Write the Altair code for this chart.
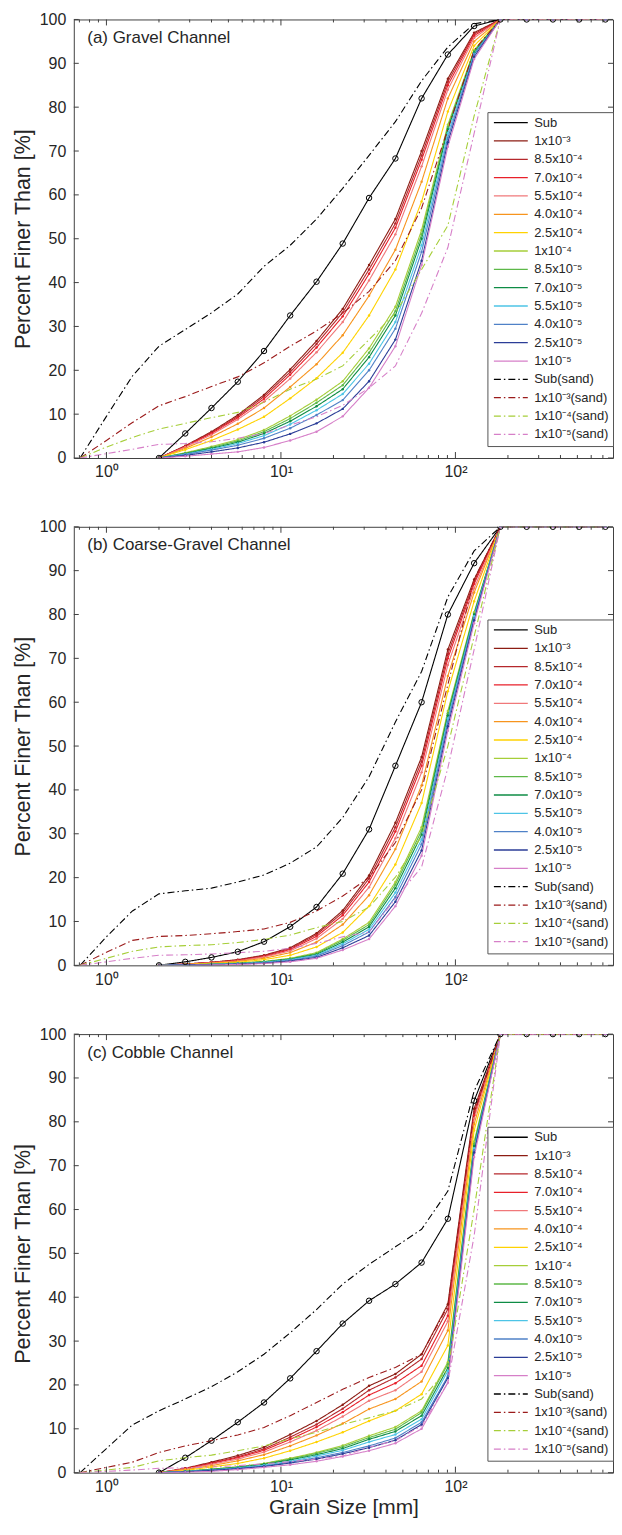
import altair as alt
import pandas as pd

FONT = "Liberation Sans"
TXT = "#262626"

# ---- grain sizes (mm) ----
SIZES = [2, 2.83, 4, 5.66, 8, 11.3, 16, 22.6, 32, 45.3, 64, 90.5, 128, 181]
SAND_SIZES = [0.707, 1, 1.41, 2, 2.83, 4, 5.66, 8, 11.3, 16, 22.6, 32, 45.3, 64, 90.5, 128, 181]
TAIL_SIZES = [256, 362, 512, 724]
TAIL_VALUES = [100, 100, 100, 100]

NAMES = ["Sub", "1x10⁻³", "8.5x10⁻⁴", "7.0x10⁻⁴", "5.5x10⁻⁴", "4.0x10⁻⁴", "2.5x10⁻⁴",
         "1x10⁻⁴", "8.5x10⁻⁵", "7.0x10⁻⁵", "5.5x10⁻⁵", "4.0x10⁻⁵", "2.5x10⁻⁵", "1x10⁻⁵",
         "Sub(sand)", "1x10⁻³(sand)", "1x10⁻⁴(sand)", "1x10⁻⁵(sand)"]
COLORS = ["#000000", "#8C1C13", "#B5282C", "#E8202A", "#F0787A", "#F7941D", "#FFD200",
          "#A6CE39", "#5DB848", "#0E8C45", "#4DC4E6", "#4F81C7", "#2B3D97", "#D67FC8",
          "#000000", "#9B1B1B", "#A6CE39", "#D67FC8"]
SAND_FLAGS = [False] * 14 + [True] * 4

PANEL_TITLES = ["(a) Gravel Channel", "(b) Coarse-Gravel Channel", "(c) Cobble Channel"]

# ---- panel (a) ----
A = [
    [0, 5.6, 11.4, 17.4, 24.4, 32.5, 40.2, 48.9, 59.3, 68.3, 82, 92, 98.5, 100],
    [0, 2.8, 6.0, 9.8, 14.4, 20.2, 26.7, 34, 44, 54.5, 70, 86.5, 97, 100],
    [0, 2.7, 5.8, 9.5, 14.0, 19.6, 26.0, 33.2, 43, 53.5, 69, 85.8, 96.7, 100],
    [0, 2.6, 5.6, 9.2, 13.5, 19.0, 25.2, 32.3, 42, 52.5, 68, 85, 96.3, 100],
    [0, 2.5, 5.3, 8.8, 12.9, 18.1, 24.1, 31, 40.5, 51, 66.5, 84, 95.8, 100],
    [0, 2.2, 4.8, 7.8, 11.4, 16.2, 21.4, 28, 37, 47.5, 63, 82, 95, 100],
    [0, 1.9, 4.0, 6.5, 9.4, 13.6, 18.2, 24, 32.5, 43, 58.5, 79, 94, 100],
    [0, 1.2, 2.6, 4.2, 6.4, 9.6, 13.3, 17.5, 25, 34.5, 52, 76, 93, 100],
    [0, 1.1, 2.4, 3.9, 6.0, 9.0, 12.6, 16.6, 24, 33.5, 51, 75.5, 92.8, 100],
    [0, 1.0, 2.2, 3.6, 5.6, 8.4, 11.8, 15.7, 23, 32.5, 50, 75, 92.5, 100],
    [0, 0.9, 2.0, 3.3, 5.1, 7.7, 10.9, 14.6, 21.5, 31, 48.5, 74, 92.2, 100],
    [0, 0.8, 1.8, 2.9, 4.5, 6.8, 9.8, 13.2, 20, 29.5, 47, 73, 92, 100],
    [0, 0.6, 1.4, 2.3, 3.6, 5.5, 7.9, 11.2, 17.5, 27, 45, 72, 91.5, 100],
    [0, 0.4, 0.9, 1.4, 2.4, 4.0, 6.0, 9.5, 16, 25.5, 44, 71, 91, 100],
]
A_SAND = [
    [0, 9.5, 18.7, 25.5, 29.3, 33.1, 37.4, 43.7, 48.5, 54.5, 61.5, 69, 76.7, 86, 93.7, 99, 100],
    [0, 4, 8.1, 11.9, 14, 16.3, 18.5, 21.7, 25.5, 29, 33, 38, 45, 57, 75, 93, 100],
    [0, 2.5, 4.7, 6.6, 7.9, 9.2, 10.4, 12.7, 15.7, 18, 21, 27, 33, 43, 53, 78, 100],
    [0, 1, 2, 3.1, 3.3, 3.7, 4.5, 5.6, 7.5, 9.4, 12, 16, 21, 33, 48, 74, 100],
]

# ---- panel (b) ----
B = [
    [0, 0.8, 1.8, 3.1, 5.4, 8.8, 13.3, 20.9, 31, 45.5, 60, 80, 91.7, 100],
    [0, 0.3, 0.7, 1.3, 2.3, 4.0, 7.3, 12.5, 20.5, 32.5, 47.5, 72, 88, 100],
    [0, 0.3, 0.7, 1.2, 2.2, 3.8, 7.0, 12.0, 19.8, 31.5, 46.5, 71, 87.5, 100],
    [0, 0.3, 0.6, 1.1, 2.0, 3.6, 6.6, 11.4, 19.0, 30.5, 45.5, 70, 87, 100],
    [0, 0.2, 0.6, 1.0, 1.9, 3.3, 6.1, 10.6, 17.8, 29, 44, 68.5, 86, 100],
    [0, 0.2, 0.5, 0.9, 1.6, 2.9, 5.3, 9.3, 16, 26.5, 41, 66, 85, 100],
    [0, 0.2, 0.4, 0.7, 1.3, 2.3, 4.2, 7.5, 13.5, 23, 37, 62.5, 83, 100],
    [0, 0.1, 0.3, 0.5, 0.9, 1.6, 2.9, 6.0, 9.8, 19, 31.5, 58, 80.5, 100],
    [0, 0.1, 0.3, 0.5, 0.8, 1.5, 2.7, 5.7, 9.3, 18.4, 30.7, 57.5, 80.2, 100],
    [0, 0.1, 0.2, 0.4, 0.8, 1.4, 2.5, 5.3, 8.8, 17.6, 29.8, 57, 80, 100],
    [0, 0.1, 0.2, 0.4, 0.7, 1.3, 2.3, 4.9, 8.2, 16.6, 28.7, 56.3, 79.6, 100],
    [0, 0.1, 0.2, 0.3, 0.6, 1.1, 2.1, 4.5, 7.6, 15.6, 27.6, 55.5, 79.2, 100],
    [0, 0.1, 0.1, 0.3, 0.5, 1.0, 1.8, 4.0, 6.8, 14.5, 26.2, 54.5, 78.7, 100],
    [0, 0.0, 0.1, 0.2, 0.4, 0.8, 1.6, 3.5, 6.0, 13.5, 25, 53.5, 78, 100],
]
B_SAND = [
    [0, 6.5, 12.4, 16.3, 17, 17.6, 19, 20.6, 23.3, 27, 33.7, 43, 55.5, 67, 84, 94.5, 100],
    [0, 3, 5.7, 6.6, 6.8, 7.2, 7.7, 8.3, 9.8, 12.4, 15.8, 20, 28, 40, 64, 88, 100],
    [0, 1.6, 3.2, 4.2, 4.5, 4.7, 5.2, 5.9, 6.9, 8.6, 10, 13.3, 20.1, 29.5, 50, 75, 100],
    [0, 0.8, 1.6, 2.3, 2.4, 2.6, 2.9, 3.2, 3.9, 5, 6.5, 7.6, 15.2, 22.4, 45, 72, 100],
]

# ---- panel (c) ----
C = [
    [0, 3.4, 7.3, 11.5, 16, 21.5, 27.7, 34, 39.2, 43, 47.9, 57.9, 84.8, 100],
    [0, 1.0, 2.4, 3.9, 5.8, 8.7, 11.8, 15.5, 19.8, 22.5, 27, 38.4, 83, 100],
    [0, 0.9, 2.2, 3.6, 5.4, 8.1, 11.0, 14.6, 18.8, 21.7, 25.9, 37.3, 82.2, 100],
    [0, 0.9, 2.1, 3.4, 5.1, 7.6, 10.4, 13.8, 17.7, 20.4, 24.4, 35.8, 81.5, 100],
    [0, 0.8, 1.9, 3.1, 4.7, 7.0, 9.6, 12.8, 16.4, 18.8, 23, 34.5, 80.8, 100],
    [0, 0.7, 1.6, 2.7, 4.1, 6.1, 8.5, 11.2, 14.5, 16.8, 20.8, 32.4, 79.5, 100],
    [0, 0.5, 1.3, 2.1, 3.3, 5.0, 7.0, 9.2, 11.8, 14.1, 17.9, 29, 78, 100],
    [0, 0.3, 0.8, 1.3, 2.1, 3.3, 4.6, 6.2, 8.4, 10.4, 14.1, 25.2, 75.5, 100],
    [0, 0.3, 0.8, 1.3, 2.0, 3.1, 4.4, 5.9, 8.0, 9.9, 13.7, 24.8, 75, 100],
    [0, 0.3, 0.7, 1.2, 1.9, 2.9, 4.1, 5.5, 7.6, 9.4, 13.0, 23.9, 74.5, 100],
    [0, 0.3, 0.6, 1.1, 1.7, 2.6, 3.8, 5.1, 7.0, 8.7, 12.2, 23.2, 74, 100],
    [0, 0.2, 0.6, 1.0, 1.5, 2.4, 3.4, 4.6, 6.1, 7.9, 11.5, 22, 73.5, 100],
    [0, 0.2, 0.5, 0.9, 1.4, 2.2, 3.1, 4.3, 5.7, 7.4, 11, 21.6, 73, 100],
    [0, 0.1, 0.3, 0.7, 1.2, 1.8, 2.6, 3.7, 5.0, 6.7, 10, 20.5, 72, 100],
]
C_SAND = [
    [0, 5.5, 10.9, 14.1, 16.8, 19.6, 23, 27, 31.9, 37.2, 43, 47.5, 51.5, 55.5, 64.2, 87, 100],
    [0, 1.2, 2.4, 4.6, 6.1, 7.3, 8.6, 10.3, 13, 16, 19, 21.7, 24, 27, 38, 82, 100],
    [0, 0.6, 1.2, 2.7, 3.4, 4, 5, 6.1, 7.7, 9.2, 11, 12.5, 14.1, 16.8, 23.6, 60, 100],
    [0, 0.3, 0.6, 1, 1.1, 1.3, 1.6, 2, 2.5, 3.1, 3.8, 5.8, 7.3, 10.7, 20.5, 54, 100],
]

PANELS = [(A, A_SAND), (B, B_SAND), (C, C_SAND)]

Y_TICKS = [0, 10, 20, 30, 40, 50, 60, 70, 80, 90, 100]
X_MAJOR = [1, 10, 100]
X_MINOR = [0.7, 0.8, 0.9, 2, 3, 4, 5, 6, 7, 8, 9, 20, 30, 40, 50, 60, 70, 80, 90,
           200, 300, 400, 500, 600, 700]

DASH_SOLID = [1, 0]
DASH_DOT = [7, 3, 1.5, 3]
DASHES = [DASH_DOT if s else DASH_SOLID for s in SAND_FLAGS]

W, H = 541, 440
X_DOMAIN = [0.65, 800]


def build_df(surface, sand):
    rows = []
    for i, name in enumerate(NAMES[:14]):
        xs = SIZES + TAIL_SIZES
        ys = surface[i] + TAIL_VALUES
        for o, (x, y) in enumerate(zip(xs, ys)):
            rows.append(dict(series=name, size=x, pct=y, col=COLORS[i], k=i, o=o))
    for j, name in enumerate(NAMES[14:]):
        i = 14 + j
        xs = SAND_SIZES + TAIL_SIZES
        ys = sand[j] + TAIL_VALUES
        for o, (x, y) in enumerate(zip(xs, ys)):
            rows.append(dict(series=name, size=x, pct=y, col=COLORS[i], k=i, o=o))
    return pd.DataFrame(rows)


def panel(idx):
    surface, sand = PANELS[idx]
    df = build_df(surface, sand)
    last = idx == 2
    xax = alt.Axis(values=X_MAJOR, labelExpr="datum.value == 1 ? '10⁰' : datum.value == 10 ? '10¹' : '10²'",
                   title="Grain Size [mm]" if last else None, ticks=False, tickSize=0, domain=False, grid=False,
                   labelFontSize=16, labelPadding=6, titleFontSize=21, titlePadding=2)
    yax = alt.Axis(values=Y_TICKS, title="Percent Finer Than [%]", ticks=False, tickSize=0, domain=False,
                   grid=False, labelFontSize=16, labelPadding=8, titleFontSize=21.5, titlePadding=5)
    xenc = alt.X("size:Q", scale=alt.Scale(type="log", domain=X_DOMAIN, nice=False), axis=xax)
    yenc = alt.Y("pct:Q", scale=alt.Scale(domain=[0, 100], nice=False), axis=yax)
    legend = alt.Legend(title=None, orient="none", legendX=415, legendY=93, symbolType="M-4,0H4",
                        symbolSize=72.25, symbolStrokeWidth=1.3, symbolOffset=13, labelOffset=16.9,
                        labelFontSize=13, labelFont=FONT, labelColor=TXT, strokeColor="#555555",
                        fillColor="white", padding=4, rowPadding=4.4, symbolLimit=0, labelLimit=0)
    base = alt.Chart(df)
    lines = base.mark_line(strokeWidth=1.1, clip=True).encode(
        x=xenc, y=yenc,
        color=alt.Color("series:N", scale=alt.Scale(domain=NAMES, range=COLORS), legend=legend),
        strokeDash=alt.StrokeDash("series:N", scale=alt.Scale(domain=NAMES, range=DASHES), legend=legend),
        order="o:Q",
    )
    dots = base.transform_filter("datum.k >= 1 && datum.k <= 13").mark_point(
        filled=True, size=6, opacity=1, clip=True).encode(
        x=xenc, y=yenc, color=alt.Color("col:N", scale=None))
    circles = base.transform_filter("datum.k == 0").mark_point(
        shape="circle", filled=False, size=30, stroke="#000000", strokeWidth=1, opacity=1, clip=True).encode(
        x=xenc, y=yenc)

    ydf = pd.DataFrame({"pct": Y_TICKS})
    yt_l = alt.Chart(ydf).mark_rule(color="#404040", strokeWidth=1).encode(
        y=yenc, x=alt.value(0), x2=alt.value(5))
    yt_r = alt.Chart(ydf).mark_rule(color="#404040", strokeWidth=1).encode(
        y=yenc, x=alt.value(W), x2=alt.value(W - 5))
    xmaj = pd.DataFrame({"size": X_MAJOR})
    xmin_ = pd.DataFrame({"size": X_MINOR})
    xt = []
    for d, ln in ((xmaj, 6), (xmin_, 3)):
        xt.append(alt.Chart(d).mark_rule(color="#404040", strokeWidth=1).encode(
            x=xenc, y=alt.value(H), y2=alt.value(H - ln)))
        xt.append(alt.Chart(d).mark_rule(color="#404040", strokeWidth=1).encode(
            x=xenc, y=alt.value(0), y2=alt.value(ln)))
    label = alt.Chart(pd.DataFrame({"t": [PANEL_TITLES[idx]]})).mark_text(
        align="left", baseline="middle", fontSize=17, font=FONT, color=TXT).encode(
        x=alt.value(13.5), y=alt.value(18.5), text="t:N")

    return alt.layer(lines, dots, circles, yt_l, yt_r, *xt, label).properties(width=W, height=H)


chart = alt.vconcat(panel(0), panel(1), panel(2), spacing=69, bounds="flush").resolve_scale(
    color="independent", strokeDash="independent"
).properties(
    padding={"left": 3, "top": 0, "right": 0, "bottom": 0}
).configure_view(stroke="#404040", strokeWidth=1).configure_axis(
    labelFont=FONT, titleFont=FONT, labelColor=TXT, titleColor=TXT, titleFontWeight="normal"
)

chart.save("out.html", embed_options={"renderer": "svg", "actions": False})
